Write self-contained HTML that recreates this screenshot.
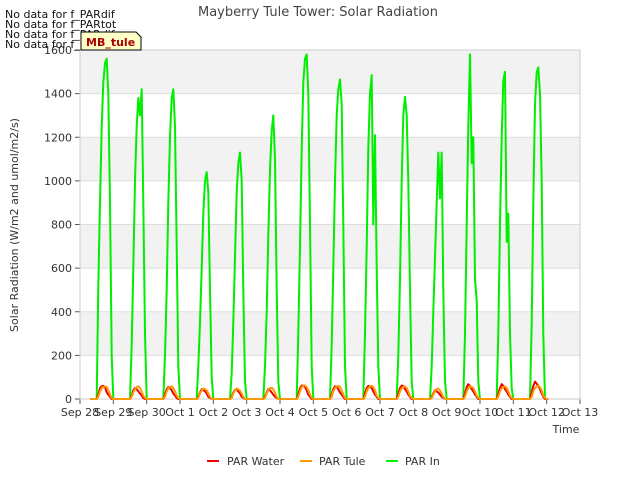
<!DOCTYPE html>
<html><head><meta charset="utf-8"><style>
body{margin:0;background:#fff;font-family:"Liberation Sans","DejaVu Sans",sans-serif}
</style></head><body>
<svg width="640" height="480" style="font-family:'DejaVu Sans','Liberation Sans',sans-serif">
<g id="bands"></g>
<g id="axes"></g>
<g id="series"></g>
<text x="318" y="16" font-size="13" fill="#444" text-anchor="middle">Mayberry Tule Tower: Solar Radiation</text>
<text x="18" y="225" font-size="11" fill="#333" text-anchor="middle" transform="rotate(-90 18 225)">Solar Radiation (W/m2 and umol/m2/s)</text>
<text x="566" y="433" font-size="11" fill="#333" text-anchor="middle">Time</text>
<g font-size="11" fill="#111">
<text x="5" y="18">No data for f_PARdif</text><text x="5" y="28">No data for f_PARtot</text>
<text x="5" y="38">No data for f_PARdif</text><text x="5" y="48">No data for f_PARtot</text></g>
<g><path d="M81,32 H136 L141,37 V50 H81 Z" fill="#ffffc8" stroke="#000" stroke-width="1"/>
<text x="86" y="46" font-size="11" font-weight="bold" fill="#a00">MB_tule</text></g>
<g font-size="11" fill="#333">
<line x1="207" y1="461" x2="219" y2="461" stroke="#e00" stroke-width="2"/><text x="227" y="465">PAR Water</text>
<line x1="300" y1="461" x2="312" y2="461" stroke="#f90" stroke-width="2"/><text x="319" y="465">PAR Tule</text>
<line x1="386" y1="461" x2="398" y2="461" stroke="#0e0" stroke-width="2"/><text x="405" y="465">PAR In</text>
</g>
</svg>
<script>
const xTickLabels=["Sep 28","Sep 29","Sep 30","Oct 1","Oct 2","Oct 3","Oct 4","Oct 5","Oct 6","Oct 7","Oct 8","Oct 9","Oct 10","Oct 11","Oct 12","Oct 13"];
const yTicks=[0,200,400,600,800,1000,1200,1400,1600];
const sampleFrac=[0.5,0.55,0.6,0.65,0.7,0.75,0.8,0.85,0.9,0.95,1.0];
const parIn=[
[0,520,900,1250,1450,1540,1560,1400,900,200,0],
[0,250,600,1000,1250,1380,1300,1420,900,300,0],
[0,200,500,900,1200,1380,1420,1250,700,150,0],
[0,150,350,600,850,1000,1040,950,500,100,0],
[0,120,350,650,950,1080,1130,1000,500,80,0],
[0,150,400,750,1050,1230,1300,1100,500,80,0],
[0,300,700,1150,1450,1560,1580,1400,800,150,0],
[0,250,600,1000,1300,1420,1465,1350,800,150,0],
[0,300,700,1150,1400,1485,800,1210,600,150,0],
[0,200,550,1000,1300,1385,1300,1000,500,80,0],
[0,150,400,650,900,1130,920,1130,500,80,0],
[0,300,800,1250,1580,1080,1200,550,450,80,0],
[0,300,800,1200,1460,1500,720,850,300,50,0],
[0,350,900,1350,1500,1520,1400,1000,300,0,0]];
const parWater=[
[0,20,50,58,60,55,30,20,10,0,0],[0,15,40,50,45,35,25,15,5,0,0],[0,20,45,55,50,40,25,15,5,0,0],
[0,10,30,45,42,35,25,10,5,0,0],[0,10,30,42,45,35,25,10,5,0,0],[0,10,30,45,40,30,20,10,5,0,0],
[0,20,50,62,60,55,40,20,10,0,0],[0,20,45,58,55,45,30,20,10,0,0],[0,25,50,60,58,50,35,20,10,0,0],
[0,25,50,62,58,45,35,20,10,0,0],[0,10,25,40,35,30,20,10,5,0,0],[0,25,55,68,60,45,35,20,10,0,0],
[0,25,50,68,60,45,35,20,10,0,0],[0,30,60,80,70,60,45,25,10,0,0]];
const parTule=[
[0,10,35,50,55,58,55,40,20,5,0],[0,10,30,45,55,58,50,35,15,5,0],[0,10,35,50,55,58,50,35,15,5,0],
[0,5,25,40,48,45,40,25,10,0,0],[0,5,25,40,48,45,38,25,10,0,0],[0,5,25,40,50,52,45,30,10,0,0],
[0,10,35,55,60,62,55,40,20,5,0],[0,10,35,50,58,60,55,40,20,5,0],[0,10,35,50,58,60,55,40,15,5,0],
[0,10,35,50,55,58,50,35,15,5,0],[0,5,20,35,45,48,40,25,10,0,0],[0,10,35,50,58,55,50,35,15,5,0],
[0,10,35,50,55,58,50,35,15,5,0],[0,10,35,50,58,60,55,40,15,5,0]];
const startDay=0.3, endDay=14.05;
const X0=80,X1=580,Y0=399,Y1=50,NS="http://www.w3.org/2000/svg";
const xs=d=>X0+(X1-X0)*d/15, ys=v=>Y0-(Y0-Y1)*v/1600;
function mk(t,a,p){const e=document.createElementNS(NS,t);for(const k in a)e.setAttribute(k,a[k]);p.appendChild(e);return e;}
const bands=document.getElementById('bands'),axes=document.getElementById('axes'),ser=document.getElementById('series');
mk('rect',{x:X0,y:Y1,width:X1-X0,height:Y0-Y1,fill:'#fff'},bands);
for(let i=0;i<yTicks.length-1;i++){if(i%2==1){const r=mk('rect',{x:X0,y:ys(yTicks[i+1]),width:X1-X0,height:ys(yTicks[i])-ys(yTicks[i+1]),fill:'#f2f2f2'},bands);

}}
yTicks.forEach(v=>{mk('line',{x1:X0,x2:X1,y1:ys(v),y2:ys(v),stroke:'#ddd'},axes);mk('line',{x1:X0-5,x2:X0,y1:ys(v),y2:ys(v),stroke:'#555'},axes);
const t=mk('text',{x:X0-8,y:ys(v)+4,'font-size':11,fill:'#333','text-anchor':'end'},axes);t.textContent=v;

});
xTickLabels.forEach((l,i)=>{mk('line',{x1:xs(i),x2:xs(i),y1:Y0,y2:Y0+5,stroke:'#555'},axes);
const t=mk('text',{x:xs(i),y:Y0+17,'font-size':11,fill:'#333','text-anchor':'middle'},axes);t.textContent=l;

});
mk('rect',{x:X0,y:Y1,width:X1-X0,height:Y0-Y1,fill:'none',stroke:'#ccc'},axes);
function draw(data,col,name){let p=[[startDay,0]];data.forEach((day,d)=>day.forEach((v,j)=>p.push([d+sampleFrac[j],v])));p.push([endDay,0]);
const e=mk('polyline',{points:p.map(q=>xs(q[0]).toFixed(1)+','+ys(q[1]).toFixed(1)).join(' '),fill:'none',stroke:col,'stroke-width':2,'stroke-linejoin':'round'},ser);

}
draw(parIn,'#00ee00','par-in-line');draw(parWater,'#ee0000','par-water-line');draw(parTule,'#ff9900','par-tule-line');
</script>
</body></html>
